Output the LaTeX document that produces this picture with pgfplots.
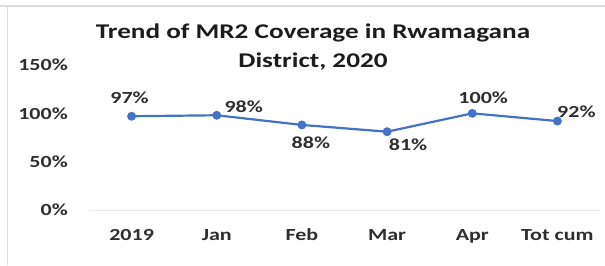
\documentclass[border=0pt]{standalone}
\usepackage{pgfplots}
\pgfplotsset{compat=1.18}
\usepackage{pgfplotstable}
\usepackage{fontspec}
\setmainfont[FakeStretch=1.3]{Carlito}
\definecolor{lineblue}{HTML}{4472C4}
\definecolor{txt}{HTML}{2E2E2E}
\definecolor{ttl}{HTML}{1C1C1C}
\definecolor{frame}{HTML}{DCDCDC}
\definecolor{base}{HTML}{EBEBEB}
\pgfplotstableread{
x y dx dy
0 97 -2 19
1 98 27 9
2 88 9 -18
3 81 21 -13
4 100 11 16
5 92 19 9
}\data
\begin{document}
\begin{tikzpicture}[x=1bp,y=1bp]
\useasboundingbox (-89,-55) rectangle (516,210);
\draw[frame, line width=1.2bp] (-89,204) -- (516,204);
\draw[frame, line width=1.2bp] (-81.5,204) -- (-81.5,-55);
\begin{axis}[
  at={(0,0)}, anchor=south west,
  scale only axis, width=511bp, height=145bp,
  xmin=-0.5, xmax=5.5, ymin=0, ymax=150,
  axis x line*=bottom, axis y line*=left,
  x axis line style={base, line width=1bp, -},
  y axis line style={draw=none},
  xtick={0,...,5},
  xticklabels={2019,Jan,Feb,Mar,Apr,Tot cum},
  ytick={0,50,100,150},
  yticklabels={0\%,50\%,100\%,150\%},
  major tick length=0pt,
  clip=false,
  /pgf/number format/assume math mode=true,
  tick label style={font=\fontsize{17}{20}\selectfont\bfseries, text=txt, inner sep=0pt},
  xticklabel style={anchor=base, yshift=-30bp},
  yticklabel style={anchor=east, xshift=-21bp},
]
\addplot[lineblue, line width=2.2bp, mark=*, mark size=3.3bp, mark options={fill=lineblue, draw=lineblue},
  nodes near coords={\pgfmathprintnumber{\pgfplotspointmeta}\%},
  visualization depends on={\thisrow{dx}\as\dx},
  visualization depends on={\thisrow{dy}\as\dy},
  every node near coord/.append style={anchor=center, inner sep=0pt, xshift=\dx bp, yshift=\dy bp,
    font=\fontsize{17}{20}\selectfont\bfseries, text=txt, /pgf/number format/assume math mode=true},
  point meta=explicit]
  table[x=x, y=y, meta=y] {\data};
\end{axis}
\node[anchor=base, inner sep=0pt, text=ttl, font=\fontsize{21}{25}\selectfont\bfseries] at (224,172) {Trend of MR2 Coverage in Rwamagana};
\node[anchor=base, inner sep=0pt, text=ttl, font=\fontsize{21}{25}\selectfont\bfseries] at (224,143) {District, 2020};
\end{tikzpicture}
\end{document}
